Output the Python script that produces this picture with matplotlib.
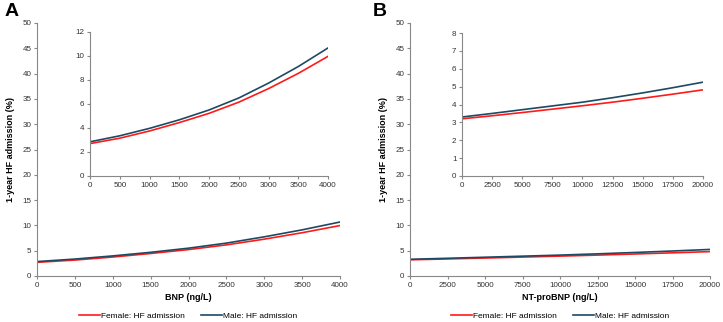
import matplotlib
matplotlib.use("Agg")
import matplotlib.pyplot as plt
from matplotlib.lines import Line2D

plt.rcParams['font.family'] = ['Liberation Sans', 'DejaVu Sans']

# panel A: BNP
bnp = [0, 500, 1000, 1500, 2000, 2500, 3000, 3500, 4000]
bnp_female = [2.70, 3.15, 3.75, 4.45, 5.22, 6.15, 7.28, 8.55, 9.97]
bnp_male = [2.85, 3.35, 3.97, 4.68, 5.50, 6.50, 7.74, 9.12, 10.67]

# panel B: NT-proBNP
ntp = [0, 2500, 5000, 7500, 10000, 12500, 15000, 17500, 20000]
ntp_female = [3.20, 3.37, 3.55, 3.74, 3.93, 4.13, 4.35, 4.58, 4.82]
ntp_male = [3.30, 3.50, 3.71, 3.92, 4.13, 4.38, 4.65, 4.94, 5.25]

RED = '#ff1a1a'
BLUE = '#1d4a63'
GREY = '#888888'

W, H = 723, 322
fig = plt.figure(figsize=(W / 100, H / 100), dpi=100)


def box(x0, y0, x1, y1):
    # pixel box -> figure fraction
    return [x0 / W, 1 - y1 / H, (x1 - x0) / W, (y1 - y0) / H]


def style(ax, xt, yt, ymax, xmax):
    for s in ['top', 'right']:
        ax.spines[s].set_visible(False)
    for s in ['left', 'bottom']:
        ax.spines[s].set_color(GREY)
        ax.spines[s].set_linewidth(0.8)
    ax.set_xlim(0, xmax)
    ax.set_ylim(0, ymax)
    ax.set_xticks(xt)
    ax.set_yticks(yt)
    ax.tick_params(labelsize=5.8, length=2, width=0.8, color=GREY, pad=2,
                   labelcolor='#333333')
    ax.patch.set_alpha(0)


def draw(ax, x, f, m):
    ax.plot(x, f, color=RED, lw=1.2)
    ax.plot(x, m, color=BLUE, lw=1.2)


# ---- A ----
axA = fig.add_axes(box(37, 23, 340, 276))
draw(axA, bnp, bnp_female, bnp_male)
style(axA, range(0, 4001, 500), range(0, 51, 5), 50, 4000)
axA.set_xlabel('BNP (ng/L)', fontsize=6.5, fontweight='bold', labelpad=3)
axA.set_ylabel('1-year HF admission (%)', fontsize=6.5, fontweight='bold', labelpad=5)

inA = fig.add_axes(box(90, 32, 328, 176))
draw(inA, bnp, bnp_female, bnp_male)
style(inA, range(0, 4001, 500), range(0, 13, 2), 12, 4000)

# ---- B ----
axB = fig.add_axes(box(410, 23, 710, 276))
draw(axB, ntp, ntp_female, ntp_male)
style(axB, range(0, 20001, 2500), range(0, 51, 5), 50, 20000)
axB.set_xlabel('NT-proBNP (ng/L)', fontsize=6.5, fontweight='bold', labelpad=3)
axB.set_ylabel('1-year HF admission (%)', fontsize=6.5, fontweight='bold', labelpad=5)

inB = fig.add_axes(box(462, 33, 703, 176))
draw(inB, ntp, ntp_female, ntp_male)
style(inB, range(0, 20001, 2500), range(0, 9, 1), 8, 20000)

fig.text(5 / W, 1 - 3 / H, 'A', fontsize=14, fontweight='bold', va='top', ha='left')
fig.text(373 / W, 1 - 3 / H, 'B', fontsize=14, fontweight='bold', va='top', ha='left')

handles = [Line2D([], [], color=RED, lw=1.2), Line2D([], [], color=BLUE, lw=1.2)]
labels = ['Female: HF admission', 'Male: HF admission']
for cx in [188, 560]:
    fig.legend(handles, labels, loc='center', bbox_to_anchor=(cx / W, 1 - 316 / H),
               ncol=2, frameon=False, fontsize=6, handlelength=2.5, handletextpad=0.1,
               columnspacing=2.0)

fig.savefig('out.png', dpi=100)
